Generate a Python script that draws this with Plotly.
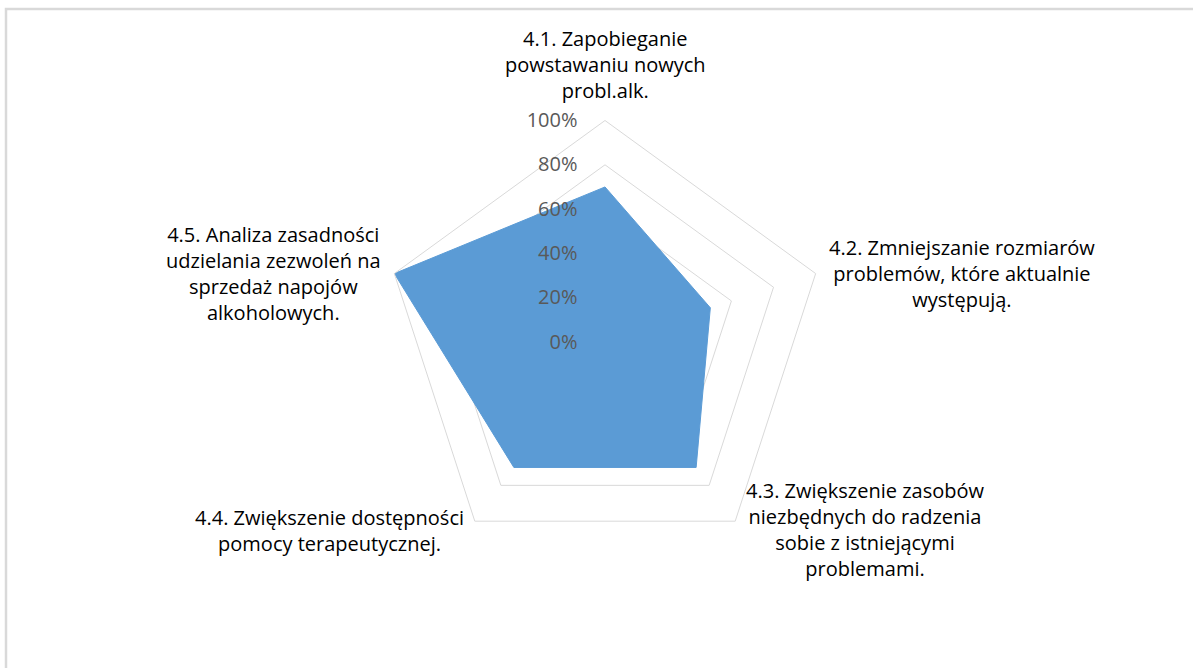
import plotly.graph_objects as go

categories = [
    "4.1. Zapobieganie<br>powstawaniu nowych<br>probl.alk.",
    "4.2. Zmniejszanie rozmiarów<br>problemów, które aktualnie<br>występują.",
    "4.3. Zwiększenie zasobów<br>niezbędnych do radzenia<br>sobie z istniejącymi<br>problemami.",
    "4.4. Zwiększenie dostępności<br>pomocy terapeutycznej.",
    "4.5. Analiza zasadności<br>udzielania zezwoleń na<br>sprzedaż napojów<br>alkoholowych.",
]
values = [0.70, 0.50, 0.70, 0.70, 1.00]
radial_ticks = [0, 0.2, 0.4, 0.6, 0.8, 1.0]

W, H = 1193, 668
cx, cy, R = 605, 342, 221.5

# centre of each category caption block, in pixels
label_pos = [(605, 65), (962, 273), (866, 529), (329, 530), (273, 273)]

fig = go.Figure()
fig.add_trace(go.Scatterpolar(
    r=values + values[:1],
    theta=categories + categories[:1],
    fill="toself",
    fillcolor="#5B9BD5",
    line=dict(color="#5B9BD5", width=1),
    mode="lines",
    hoverinfo="r+theta",
))

annotations = []
for text, (x, y) in zip(categories, label_pos):
    annotations.append(dict(
        text=text, xref="paper", yref="paper",
        x=x / W, y=1 - y / H, xanchor="center", yanchor="middle",
        showarrow=False, align="center",
        font=dict(family="Open Sans", size=20, color="black"),
    ))

fig.update_layout(
    width=W, height=H,
    paper_bgcolor="white",
    plot_bgcolor="white",
    showlegend=False,
    margin=dict(l=0, r=0, t=0, b=0),
    font=dict(family="Open Sans", size=20, color="black"),
    polar=dict(
        domain=dict(x=[(cx - R) / W, (cx + R) / W],
                    y=[1 - (cy + R) / H, 1 - (cy - R) / H]),
        gridshape="linear",
        bgcolor="white",
        angularaxis=dict(
            rotation=90,
            direction="clockwise",
            showgrid=False,
            showline=True,
            linecolor="#d9d9d9",
            linewidth=1,
            ticks="",
            showticklabels=False,
        ),
        radialaxis=dict(
            range=[0, 1],
            tickvals=radial_ticks,
            tickformat=".0%",
            angle=90,
            tickangle=90,
            side="counterclockwise",
            showline=False,
            ticks="outside",
            ticklen=20,
            tickcolor="rgba(0,0,0,0)",
            gridcolor="#d9d9d9",
            gridwidth=1,
            tickfont=dict(family="Open Sans", size=20, color="#595959"),
        ),
    ),
    annotations=annotations,
    shapes=[
        dict(type="rect", xref="paper", yref="paper",
             x0=6 / W, x1=1.01, y0=-0.01, y1=1 - 9 / H,
             line=dict(color="#d9d9d9", width=2.5), layer="below"),
    ],
)

fig.write_html("out.html", config={"displayModeBar": False},
               post_script="document.body.style.margin='0';")
